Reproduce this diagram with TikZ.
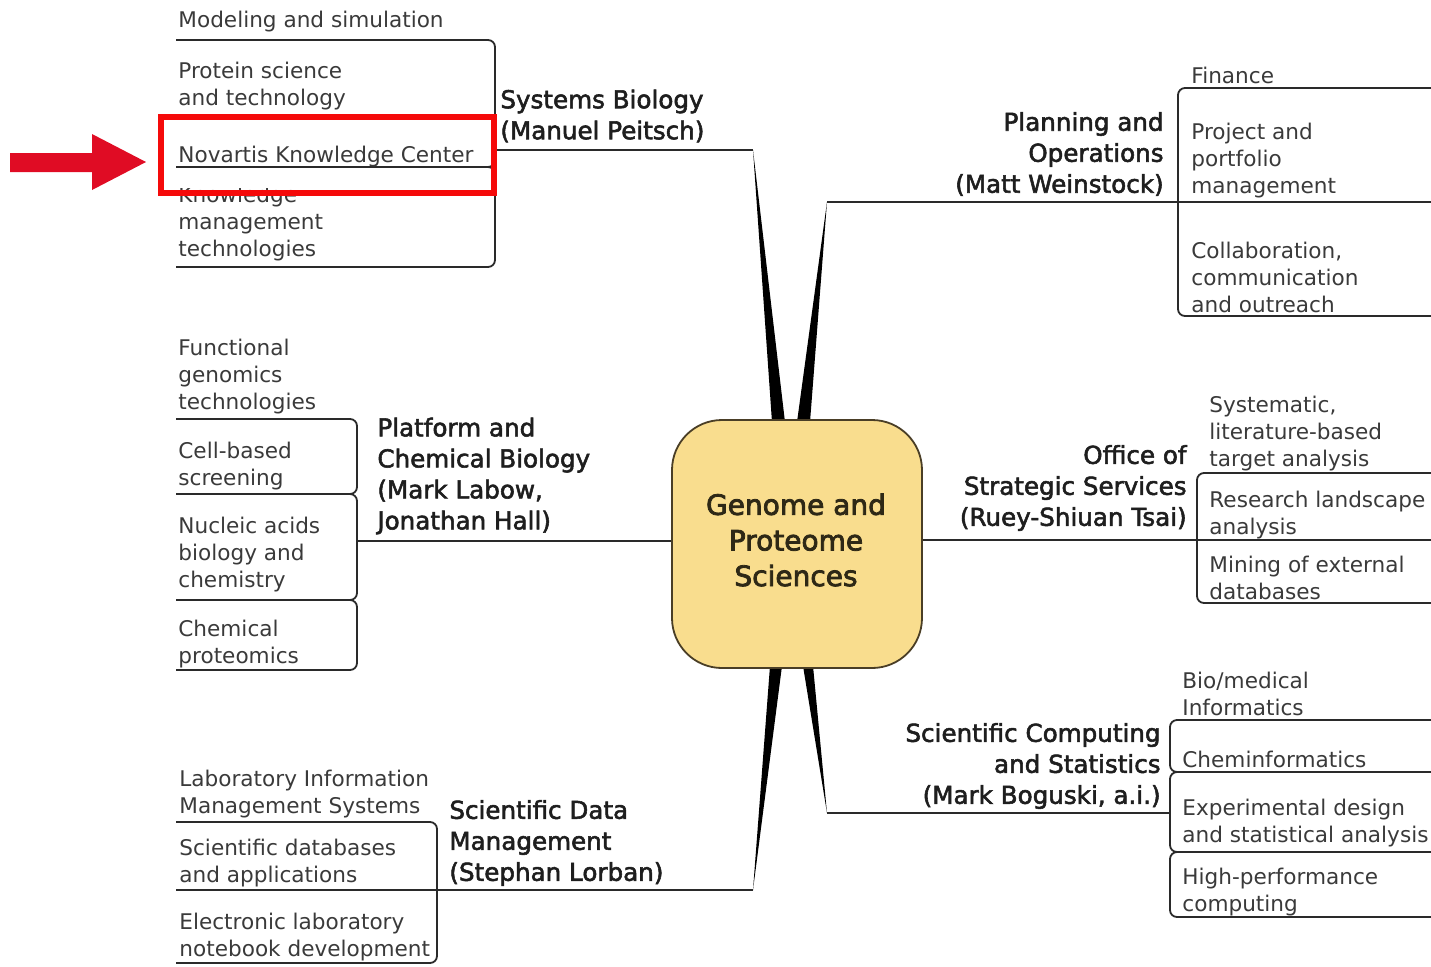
\documentclass[tikz,border=0pt]{standalone}
\usepackage{fontspec}
\setmainfont{DejaVu Sans}
\newfontfamily\subfont{DejaVu Sans}
\newfontfamily\labfont[FakeBold=2.2]{DejaVu Sans}
\newfontfamily\cenfont[FakeBold=2.8]{DejaVu Sans}
\usetikzlibrary{calc}
\pgfdeclarelayer{bg}
\pgfsetlayers{bg,main}
\definecolor{subtxt}{HTML}{3A3A3A}
\definecolor{labtxt}{HTML}{1E1E1E}
\definecolor{centxt}{HTML}{2E2816}
\definecolor{linec}{HTML}{2A2A2A}
\definecolor{boxfill}{HTML}{F9DD8E}
\definecolor{boxborder}{HTML}{4A3E26}
\definecolor{redbox}{HTML}{F50A0A}
\definecolor{redarrow}{HTML}{E00C24}
\begin{document}
\begin{tikzpicture}[x=0.5pt,y=-0.5pt,
  sub/.style={font=\subfont\fontsize{10.8}{13.5}\selectfont, text=subtxt, align=left, inner sep=0pt, anchor=west, yshift=-1.5pt},
  lab/.style={font=\labfont\fontsize{12.3}{15.5}\selectfont, text=labtxt, inner sep=0pt, yshift=-1pt},
  labl/.style={lab, align=left, anchor=west},
  labr/.style={lab, align=right, anchor=east},
  conn/.style={draw=linec, line width=1pt},
  brk/.style={draw=linec, line width=0.9pt, rounded corners=3.5pt},
  wedgefill/.style={fill=black},
]
\useasboundingbox (0,0) rectangle (1431,966);

% central topic
\node[draw=boxborder, line width=0.9pt, fill=boxfill, rounded corners=25pt,
      minimum width=125pt, minimum height=124pt, inner sep=0pt] (c) at (797,544) {};
\node[align=center, inner sep=0pt, font=\cenfont\fontsize{14}{17.8}\selectfont, text=centxt] (ct)
      at ($(c.center)+(-1,-4)$) {Genome and\\Proteome\\Sciences};

% branch end points
\coordinate (sbTip) at (753,150);
\coordinate (poTip) at (827,202);
\coordinate (scTip) at (827,813);
\coordinate (sdTip) at (753,890);
\coordinate (sbBr) at (495,150);
\coordinate (poEnd) at (1431,202);
\coordinate (pcBr) at (357,541);
\coordinate (osEnd) at (1431,540);
\coordinate (scBr) at (1170,813);
\coordinate (sdEnd) at (176,890);

% tapered branches
\begin{pgfonlayer}{bg}
\fill[wedgefill] (sbTip) -- ($(c.north)+(-25,3)$) -- ($(c.north)+(-12,3)$) -- cycle;
\fill[wedgefill] (poTip) -- ($(c.north)+(0,3)$) -- ($(c.north)+(13,3)$) -- cycle;
\fill[wedgefill] (sdTip) -- ($(c.south)+(-27,-3)$) -- ($(c.south)+(-15,-3)$) -- cycle;
\fill[wedgefill] (scTip) -- ($(c.south)+(6,-3)$) -- ($(c.south)+(16,-3)$) -- cycle;
\end{pgfonlayer}

% main connectors
\draw[conn] (sbTip) -- (sbBr);
\draw[conn] (poTip) -- (poEnd);
\draw[conn] (pcBr -| c.west) -- (pcBr);
\draw[conn] (osEnd -| c.east) -- (osEnd);
\draw[conn] (scTip) -- (scBr);
\draw[conn] (sdTip) -- (sdEnd);

% brackets
\draw[brk] (176,40) -- (495,40) -- (495,167) -- (176,167);
\draw[brk] (176,167) -- (495,167) -- (495,267) -- (176,267);
\draw[brk] (1431,88) -- (1178,88) -- (1178,316) -- (1431,316);
\draw[brk] (176,419) -- (357,419) -- (357,494) -- (176,494);
\draw[brk] (176,494) -- (357,494) -- (357,600) -- (176,600);
\draw[brk] (176,600) -- (357,600) -- (357,670) -- (176,670);
\draw[brk] (1431,473) -- (1197,473) -- (1197,603) -- (1431,603);
\draw[brk] (1431,720) -- (1170,720) -- (1170,772) -- (1431,772);
\draw[brk] (1431,772) -- (1170,772) -- (1170,852) -- (1431,852);
\draw[brk] (1431,852) -- (1170,852) -- (1170,917) -- (1431,917);
\draw[brk] (176,822) -- (437,822) -- (437,963) -- (176,963);

% main topic labels
\node[labl] (sbL) at (500,114) {Systems Biology\\(Manuel Peitsch)};
\node[labr] (poL) at (1164,152) {Planning and\\Operations\\(Matt Weinstock)};
\node[labl] (pcL) at (377,474) {Platform and\\Chemical Biology\\(Mark Labow,\\Jonathan Hall)};
\node[labr] (osL) at (1187,486) {Office of\\Strategic Services\\(Ruey-Shiuan Tsai)};
\node[labr] (scL) at (1161,764) {Scientific Computing\\and Statistics\\(Mark Boguski, a.i.)};
\node[labl] (sdL) at (449,841) {Scientific Data\\Management\\(Stephan Lorban)};

% Systems Biology sub-items
\node[sub] (sb1) at (178,19) {Modeling and simulation};
\node[sub] (sb2) at (178,83) {Protein science\\and technology};
\node[sub] (sb4) at (178,221) {Knowledge\\management\\technologies};
\fill[white] (176,169.5) rectangle (493,188);
\node[sub] (sb3) at (178,154) {Novartis Knowledge Center};

% Planning sub-items
\node[sub] (po1) at (1191,72) {Finance};
\node[sub] (po2) at (1191,158) {Project and\\portfolio\\management};
\node[sub] (po3) at (1191,274) {Collaboration,\\communication\\and outreach};

% Platform sub-items
\node[sub] (pc1) at (178,374) {Functional\\genomics\\technologies};
\node[sub] (pc2) at (178,463) {Cell-based\\screening};
\node[sub] (pc3) at (178,552) {Nucleic acids\\biology and\\chemistry};
\node[sub] (pc4) at (178,641) {Chemical\\proteomics};

% Office sub-items
\node[sub] (os1) at (1209,431) {Systematic,\\literature-based\\target analysis};
\node[sub] (os2) at (1209,512) {Research landscape\\analysis};
\node[sub] (os3) at (1209,575) {Mining of external\\databases};

% Scientific Computing sub-items
\node[sub] (sc1) at (1182,691) {Bio/medical\\Informatics};
\node[sub] (sc2) at (1182,756) {Cheminformatics};
\node[sub] (sc3) at (1182,820) {Experimental design\\and statistical analysis};
\node[sub] (sc4) at (1182,889) {High-performance\\computing};

% Scientific Data sub-items
\node[sub] (sd1) at (179,791) {Laboratory Information\\Management Systems};
\node[sub] (sd2) at (179,860) {Scientific databases\\and applications};
\node[sub] (sd3) at (179,934) {Electronic laboratory\\notebook development};

% highlight annotation
\node[draw=redbox, line width=3pt, minimum width=166.5pt, minimum height=38pt, inner sep=0pt] (hl) at (327.5,155) {};
\coordinate (arT) at (hl.west);
\fill[redarrow] (10,153) -- (92,153) -- (92,134) -- ($(arT)+(-12,7)$) -- (92,190) -- (92,172) -- (10,172) -- cycle;
\end{tikzpicture}
\end{document}
